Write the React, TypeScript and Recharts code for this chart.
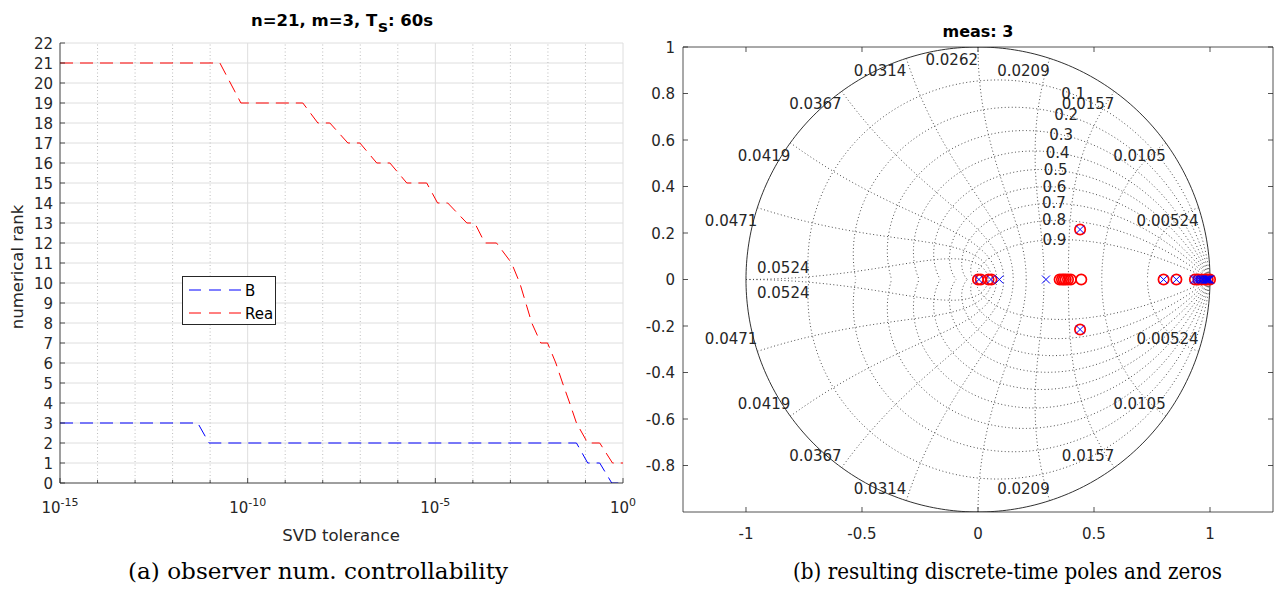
import React from 'react';
import {
  ComposedChart,
  Line,
  Scatter,
  XAxis,
  YAxis,
  CartesianGrid,
  ReferenceLine,
  Legend,
} from 'recharts';

const AXIS = '#262626';
const SANS = '"DejaVu Sans", "Liberation Sans", Arial, sans-serif';
const SERIF = '"DejaVu Serif", "Liberation Serif", serif';

// ---------- (a) numerical rank vs. SVD tolerance ----------
// tolerance given as exponent of 10
const reaTolExp = [
  -15, -10.74, -10.18, -8.53, -8.13, -7.81, -7.33, -7.01, -6.56, -6.21, -5.76,
  -5.23, -4.94, -4.67, -4.16, -3.95, -3.68, -3.37, -2.97, -2.75, -2.43, -2.19,
  -2.01, -1.79, -1.61, -1.42, -1.24, -0.94, -0.62, -0.28, 0,
];
const reaRank = [
  21, 21, 19, 19, 18, 18, 17, 17, 16, 16, 15, 15, 14, 14, 13, 13, 12, 12, 11,
  10, 8, 7, 7, 6, 5, 4, 3, 2, 2, 1, 1,
];
const bTolExp = [-15, -11.33, -11.03, -1.24, -0.94, -0.62, -0.3, 0];
const bRank = [3, 3, 2, 2, 1, 1, 0, 0];

const decadeExps = [-15, -14, -13, -12, -11, -10, -9, -8, -7, -6, -5, -4, -3, -2, -1, 0];
const labelledExps = [-15, -10, -5, 0];
const rankTicks = [0, 1, 2, 3, 4, 5, 6, 7, 8, 9, 10, 11, 12, 13, 14, 15, 16, 17, 18, 19, 20, 21, 22];

// ---------- (b) poles and zeros ----------
const poleRe = [
  0.004, 0.056, 0.092, 0.293, 0.44, 0.44, 0.8, 0.855, 0.932, 0.94, 0.948,
  0.955, 0.962, 0.968, 0.974, 0.98, 0.985, 0.99, 0.994, 0.997, 1.0,
];
const poleIm = [0, 0, 0, 0, 0.215, -0.215, 0, 0, 0, 0, 0, 0, 0, 0, 0, 0, 0, 0, 0, 0, 0];
const zeroRe = [
  0.0, 0.012, 0.045, 0.058, 0.352, 0.362, 0.37, 0.378, 0.388, 0.4, 0.445,
  0.44, 0.44, 0.8, 0.855, 0.935, 0.95, 0.965, 0.98, 0.99, 1.0,
];
const zeroIm = [0, 0, 0, 0, 0, 0, 0, 0, 0, 0, 0, 0.215, -0.215, 0, 0, 0, 0, 0, 0, 0, 0];

const dampingRatios = [0.1, 0.2, 0.3, 0.4, 0.5, 0.6, 0.7, 0.8, 0.9];
const dampingLabels = ['0.1', '0.2', '0.3', '0.4', '0.5', '0.6', '0.7', '0.8', '0.9'];
const freqLabels = [
  '0.00524', '0.0105', '0.0157', '0.0209', '0.0262',
  '0.0314', '0.0367', '0.0419', '0.0471', '0.0524',
];
// natural-frequency labels drawn below the real axis (0.0262 is only shown above)
const freqLabelsBelow = [true, true, true, true, false, true, true, true, true, true];
const pzXTicks = [-1, -0.5, 0, 0.5, 1];
const pzYTicks = [-0.8, -0.6, -0.4, -0.2, 0, 0.2, 0.4, 0.6, 0.8, 1];

// ---------- z-plane grid geometry (zgrid) ----------
type P = { x: number; y: number };

function dampingCurve(zeta: number, sign: number): P[] {
  const s = Math.sqrt(1 - zeta * zeta);
  const wMax = Math.PI / s;
  const pts: P[] = [];
  const N = 120;
  for (let i = 0; i <= N; i++) {
    const w = (i / N) * wMax;
    const r = Math.exp(-zeta * w);
    pts.push({ x: r * Math.cos(w * s), y: sign * r * Math.sin(w * s) });
  }
  return pts;
}

function freqCurve(wnT: number, sign: number): P[] {
  const pts: P[] = [];
  const N = 60;
  for (let i = 0; i <= N; i++) {
    const t = (i / N) * (Math.PI / 2);
    const zeta = Math.sin(t);
    const s = Math.cos(t);
    const r = Math.exp(-zeta * wnT);
    pts.push({ x: r * Math.cos(wnT * s), y: sign * r * Math.sin(wnT * s) });
  }
  return pts;
}

const unitCircle: P[] = [];
for (let i = 0; i <= 360; i++) {
  const a = (i / 360) * 2 * Math.PI;
  unitCircle.push({ x: Math.cos(a), y: Math.sin(a) });
}

const gridCurves: P[][] = [];
dampingRatios.forEach((z) => {
  gridCurves.push(dampingCurve(z, 1));
  gridCurves.push(dampingCurve(z, -1));
});
freqLabels.forEach((_, i) => {
  const wnT = ((i + 1) * Math.PI) / 10;
  gridCurves.push(freqCurve(wnT, 1));
  gridCurves.push(freqCurve(wnT, -1));
});

// label anchors
const dampingLabelPts = dampingRatios.map((z, i) => {
  const s = Math.sqrt(1 - z * z);
  const w = 1.1;
  const r = Math.exp(-z * w);
  return { x: r * Math.cos(w * s), y: r * Math.sin(w * s), label: dampingLabels[i], anchor: 'middle', dx: 0, dy: 5 };
});
const freqLabelPts: any[] = [];
freqLabels.forEach((lab, i) => {
  const a = ((i + 1) * Math.PI) / 10;
  const last = i === freqLabels.length - 1;
  freqLabelPts.push({
    x: Math.cos(a), y: Math.sin(a), label: lab,
    anchor: last ? 'start' : 'end', dx: last ? 11 : 0, dy: last ? -7 : 18,
  });
  if (freqLabelsBelow[i]) {
    freqLabelPts.push({
      x: Math.cos(a), y: -Math.sin(a), label: lab,
      anchor: last ? 'start' : 'end', dx: last ? 11 : 0, dy: last ? 18 : -7,
    });
  }
});

const poleData = poleRe.map((x, i) => ({ x, y: poleIm[i] }));
const zeroData = zeroRe.map((x, i) => ({ x, y: zeroIm[i] }));

// ---------- tick renderers ----------
const DecadeTick = (props: any) => {
  const { x, y, payload } = props;
  const e = Math.round(Math.log10(payload.value));
  const major = labelledExps.includes(e);
  return (
    <g>
      <line x1={x} x2={x} y1={y} y2={y - (major ? 5 : 3)} stroke={AXIS} strokeWidth={0.8} />
      {major && (
        <text x={x} y={y + 30} textAnchor="middle" fontFamily={SANS} fontSize={15} fill={AXIS}>
          10
          <tspan dy={-7} fontSize={11}>{e}</tspan>
        </text>
      )}
    </g>
  );
};

const RankTick = (props: any) => {
  const { x, y, payload } = props;
  return (
    <g>
      <line x1={x} x2={x + 5} y1={y} y2={y} stroke={AXIS} strokeWidth={0.8} />
      <text x={x - 7} y={y + 5.5} textAnchor="end" fontFamily={SANS} fontSize={15} fill={AXIS}>
        {payload.value}
      </text>
    </g>
  );
};

const PzXTick = (props: any) => {
  const { x, y, payload } = props;
  return (
    <g>
      <line x1={x} x2={x} y1={y} y2={y - 5} stroke={AXIS} strokeWidth={0.8} />
      <text x={x} y={y + 27} textAnchor="middle" fontFamily={SANS} fontSize={15} fill={AXIS}>
        {payload.value}
      </text>
    </g>
  );
};

const PzYTick = (props: any) => {
  const { x, y, payload } = props;
  return (
    <g>
      <line x1={x} x2={x + 5} y1={y} y2={y} stroke={AXIS} strokeWidth={0.8} />
      <text x={x - 8} y={y + 5.5} textAnchor="end" fontFamily={SANS} fontSize={15} fill={AXIS}>
        {payload.value}
      </text>
    </g>
  );
};

const TopTick = (props: any) => {
  const { x, y } = props;
  return <line x1={x} x2={x} y1={y} y2={y + 5} stroke={AXIS} strokeWidth={0.8} />;
};

const RightTick = (props: any) => {
  const { x, y } = props;
  return <line x1={x} x2={x - 5} y1={y} y2={y} stroke={AXIS} strokeWidth={0.8} />;
};

const PoleMark = (props: any) => {
  const { cx, cy } = props;
  const d = 4;
  return (
    <g>
      <line x1={cx - d} y1={cy - d} x2={cx + d} y2={cy + d} stroke="#0000ff" strokeWidth={1} />
      <line x1={cx - d} y1={cy + d} x2={cx + d} y2={cy - d} stroke="#0000ff" strokeWidth={1} />
    </g>
  );
};

const ZeroMark = (props: any) => {
  const { cx, cy } = props;
  return <circle cx={cx} cy={cy} r={5.2} fill="none" stroke="#ff0000" strokeWidth={1.7} />;
};

const GridLabel = (props: any) => {
  const { cx, cy, payload } = props;
  return (
    <text
      x={cx + payload.dx}
      y={cy + payload.dy}
      textAnchor={payload.anchor}
      fontFamily={SANS}
      fontSize={15}
      fill="#262626"
    >
      {payload.label}
    </text>
  );
};

const LegendBox = (props: any) => {
  const { payload } = props;
  return (
    <div
      style={{
        width: 92,
        height: 47,
        border: '1px solid #262626',
        background: '#fff',
        boxSizing: 'content-box',
      }}
    >
      <svg width={92} height={47} style={{ display: 'block' }}>
        {(payload || []).map((p: any, i: number) => (
          <g key={p.value}>
            <line
              x1={6}
              x2={58}
              y1={13 + i * 23}
              y2={13 + i * 23}
              stroke={p.color}
              strokeDasharray="12 8"
              strokeWidth={1}
            />
            <text x={62} y={18.5 + i * 23} fontFamily={SANS} fontSize={15} fill="#000">
              {p.value}
            </text>
          </g>
        ))}
      </svg>
    </div>
  );
};

function RankChart() {
  const reaData = reaTolExp.map((e, i) => ({ tol: Math.pow(10, e), rank: reaRank[i] }));
  const bData = bTolExp.map((e, i) => ({ tol: Math.pow(10, e), rank: bRank[i] }));
  const decadeTicks = decadeExps.map((e) => Math.pow(10, e));
  return (
    <div style={{ position: 'absolute', left: 0, top: 0 }}>
      <ComposedChart width={640} height={590} margin={{ top: 43, right: 17, bottom: 77, left: 0 }}>
        <CartesianGrid vertical={false} stroke="#dedede" strokeWidth={1} />
        {decadeExps
          .filter((e) => !labelledExps.includes(e))
          .map((e) => (
            <ReferenceLine key={'m' + e} x={Math.pow(10, e)} stroke="#bdbdbd" strokeDasharray="1 2.5" strokeWidth={1} />
          ))}
        {labelledExps.map((e) => (
          <ReferenceLine key={'M' + e} x={Math.pow(10, e)} stroke="#dedede" strokeWidth={1} />
        ))}
        <XAxis
          dataKey="tol"
          type="number"
          scale="log"
          domain={[1e-15, 1]}
          allowDataOverflow
          ticks={decadeTicks}
          interval={0}
          tick={<DecadeTick />}
          tickLine={false}
          tickSize={0}
          tickMargin={0}
          axisLine={{ stroke: AXIS, strokeWidth: 0.8 }}
          height={30}
        />
        <YAxis
          dataKey="rank"
          type="number"
          domain={[0, 22]}
          allowDataOverflow
          ticks={rankTicks}
          interval={0}
          tick={<RankTick />}
          tickLine={false}
          tickSize={0}
          tickMargin={0}
          axisLine={{ stroke: AXIS, strokeWidth: 0.8 }}
          width={60}
        />
        <Line
          data={bData}
          dataKey="rank"
          name="B"
          type="linear"
          stroke="#0000ff"
          strokeWidth={1}
          strokeDasharray="13 7"
          dot={false}
          activeDot={false}
          isAnimationActive={false}
        />
        <Line
          data={reaData}
          dataKey="rank"
          name="Rea"
          type="linear"
          stroke="#ff0000"
          strokeWidth={1}
          strokeDasharray="13 7"
          dot={false}
          activeDot={false}
          isAnimationActive={false}
        />
        <Legend
          layout="horizontal"
          verticalAlign="middle"
          align="center"
          wrapperStyle={{ left: 182, top: 276, width: 94, height: 49 }}
          content={<LegendBox />}
        />
      </ComposedChart>
    </div>
  );
}

function PzChart() {
  const dom: [number, number] = [-1.2715, 1.2715];
  return (
    <div style={{ position: 'absolute', left: 640, top: 0 }}>
      <ComposedChart width={636} height={590} margin={{ top: 46, right: 2, bottom: 48, left: 0 }}>
        <XAxis
          dataKey="x"
          type="number"
          domain={dom}
          allowDataOverflow
          ticks={pzXTicks}
          interval={0}
          tick={<PzXTick />}
          tickLine={false}
          tickSize={0}
          tickMargin={0}
          axisLine={{ stroke: AXIS, strokeWidth: 0.8 }}
          height={30}
        />
        <XAxis
          xAxisId="top"
          orientation="top"
          dataKey="x"
          type="number"
          domain={dom}
          allowDataOverflow
          ticks={pzXTicks}
          interval={0}
          tick={<TopTick />}
          tickLine={false}
          tickSize={0}
          tickMargin={0}
          axisLine={{ stroke: AXIS, strokeWidth: 0.8 }}
          height={1}
        />
        <YAxis
          dataKey="y"
          type="number"
          domain={[-1, 1]}
          allowDataOverflow
          ticks={pzYTicks}
          interval={0}
          tick={<PzYTick />}
          tickLine={false}
          tickSize={0}
          tickMargin={0}
          axisLine={{ stroke: AXIS, strokeWidth: 0.8 }}
          width={43}
        />
        <YAxis
          yAxisId="right"
          orientation="right"
          dataKey="y"
          type="number"
          domain={[-1, 1]}
          allowDataOverflow
          ticks={pzYTicks}
          interval={0}
          tick={<RightTick />}
          tickLine={false}
          tickSize={0}
          tickMargin={0}
          axisLine={{ stroke: AXIS, strokeWidth: 0.8 }}
          width={1}
        />
        {gridCurves.map((c, i) => (
          <Line
            key={'g' + i}
            data={c}
            dataKey="y"
            type="linear"
            stroke="#4d4d4d"
            strokeWidth={1}
            strokeDasharray="1 2.5"
            dot={false}
            activeDot={false}
            isAnimationActive={false}
          />
        ))}
        <Line
          data={unitCircle}
          dataKey="y"
          type="linear"
          stroke="#1a1a1a"
          strokeWidth={0.9}
          dot={false}
          activeDot={false}
          isAnimationActive={false}
        />
        <Scatter data={freqLabelPts} shape={<GridLabel />} isAnimationActive={false} />
        <Scatter data={dampingLabelPts} shape={<GridLabel />} isAnimationActive={false} />
        <Scatter data={zeroData} shape={<ZeroMark />} isAnimationActive={false} />
        <Scatter data={poleData} shape={<PoleMark />} isAnimationActive={false} />
      </ComposedChart>
    </div>
  );
}

function Overlay() {
  return (
    <svg
      width={1276}
      height={590}
      style={{ position: 'absolute', left: 0, top: 0, pointerEvents: 'none' }}
    >
      <text x={342} y={26} textAnchor="middle" fontFamily={SANS} fontSize={16.5} fontWeight="bold" fill="#000">
        n=21, m=3, T
        <tspan dx={3} dy={6}>s</tspan>
        <tspan dy={-6}>: 60s</tspan>
      </text>
      <text x={978} y={37} textAnchor="middle" fontFamily={SANS} fontSize={16} fontWeight="bold" fill="#000">
        meas: 3
      </text>
      <text
        x={0}
        y={0}
        transform="translate(23,267) rotate(-90)"
        textAnchor="middle"
        fontFamily={SANS}
        fontSize={16.5}
        fill={AXIS}
      >
        numerical rank
      </text>
      <text x={341} y={541} textAnchor="middle" fontFamily={SANS} fontSize={16.5} fill={AXIS}>
        SVD tolerance
      </text>
      <text
        x={128}
        y={579}
        fontFamily={SERIF}
        fontSize={22}
        fill="#000"
        textLength={380}
        lengthAdjust="spacingAndGlyphs"
      >
        (a) observer num. controllability
      </text>
      <text
        x={793}
        y={579}
        fontFamily={SERIF}
        fontSize={22}
        fill="#000"
        textLength={429}
        lengthAdjust="spacingAndGlyphs"
      >
        (b) resulting discrete-time poles and zeros
      </text>
    </svg>
  );
}

export default function App() {
  return (
    <div
      style={{
        position: 'absolute',
        left: 0,
        top: 0,
        width: 1276,
        height: 590,
        background: '#fff',
        overflow: 'hidden',
      }}
    >
      <RankChart />
      <PzChart />
      <Overlay />
    </div>
  );
}
